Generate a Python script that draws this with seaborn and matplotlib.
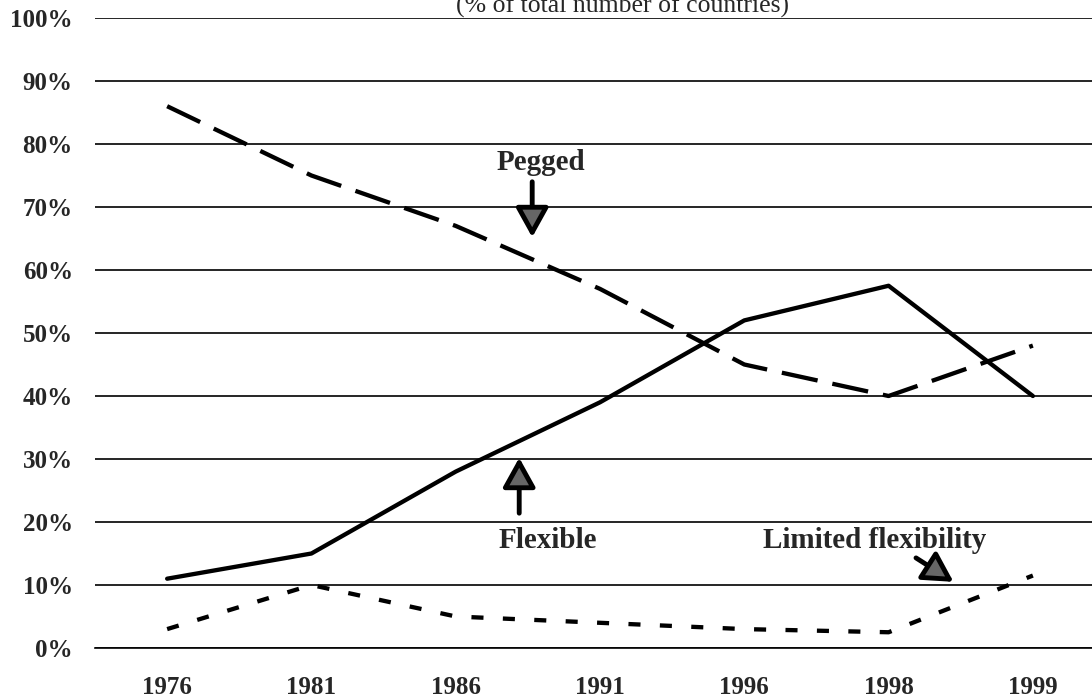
# Exchange rate regimes, share of countries (1976-1999)
import matplotlib
matplotlib.use("Agg")
import matplotlib.pyplot as plt
from matplotlib.ticker import FixedLocator, FuncFormatter
import seaborn as sns
import pandas as pd

# %% data
years = ["1976", "1981", "1986", "1991", "1996", "1998", "1999"]
pegged = [86, 75, 67, 57, 45, 40, 48]
flexible = [11, 15, 28, 39, 52, 57.5, 40]
limited = [3, 10, 5, 4, 3, 2.5, 11.5]
y_ticks = [0, 10, 20, 30, 40, 50, 60, 70, 80, 90, 100]

df = pd.DataFrame({
    "year": years * 3,
    "share": pegged + flexible + limited,
    "regime": ["Pegged"] * 7 + ["Flexible"] * 7 + ["Limited flexibility"] * 7,
})

# %% style
sns.set_style("white")
plt.rcParams['font.family'] = ['Liberation Serif', 'DejaVu Serif']

fig = plt.figure(figsize=(10.92, 7), dpi=100)
ax = fig.add_axes([95 / 1092, 52 / 700, 1 - 95 / 1092, 630 / 700])

sns.lineplot(data=df, x="year", y="share", style="regime",
             dashes={"Pegged": (8.5, 3.5), "Flexible": "",
                     "Limited flexibility": (2.8, 4.5)},
             color="black", lw=3.1, legend=False, ax=ax, sort=False)

# %% axes
ax.set_ylim(0, 100)
ax.set_xlim(-0.5, 6.5 - 13 / 144)
ax.yaxis.set_major_locator(FixedLocator(y_ticks))
ax.yaxis.set_major_formatter(FuncFormatter(lambda v, p: f"{v:.0f}%"))
ax.yaxis.grid(True, color="black", lw=1.2)
ax.set_axisbelow(True)
for s in ["left", "top", "right"]:
    ax.spines[s].set_visible(False)
ax.spines["bottom"].set_color("black")
ax.spines["bottom"].set_linewidth(1.2)

ax.tick_params(axis="y", length=0, pad=16, labelsize=18)
ax.tick_params(axis="x", which="major", length=0, pad=20, labelsize=18)
ax.xaxis.set_minor_locator(FixedLocator([i - 0.5 for i in range(8)]))
ax.tick_params(axis="x", which="minor", length=8, width=1.2, color="black",
               direction="out")
for lab in ax.get_xticklabels() + ax.get_yticklabels():
    lab.set_fontweight("bold")
ax.set_xlabel("")
ax.set_ylabel("")

# %% annotations
arrow = dict(arrowstyle="-|>,head_length=0.9,head_width=0.5", lw=3.5,
             mutation_scale=20, fc="#666666", ec="black",
             shrinkA=0, shrinkB=0)
ax.annotate("", xy=(2.53, 65.2), xytext=(2.53, 74), arrowprops=arrow)
ax.text(2.59, 77, "Pegged", ha="center", va="center", fontsize=21,
        fontweight="bold")

ax.annotate("", xy=(2.44, 30.2), xytext=(2.44, 21.4), arrowprops=arrow)
ax.text(2.64, 17.1, "Flexible", ha="center", va="center", fontsize=21,
        fontweight="bold")

ax.annotate("", xy=(5.45, 10.5), xytext=(5.19, 14.3), arrowprops=arrow)
ax.text(4.9, 17.1, "Limited flexibility", ha="center", va="center",
        fontsize=21, fontweight="bold")

fig.text(622 / 1092, 1 - 13 / 700, "(% of total number of countries)",
         ha="center", va="baseline", fontsize=18.5)

fig.savefig("out.png", dpi=100)
